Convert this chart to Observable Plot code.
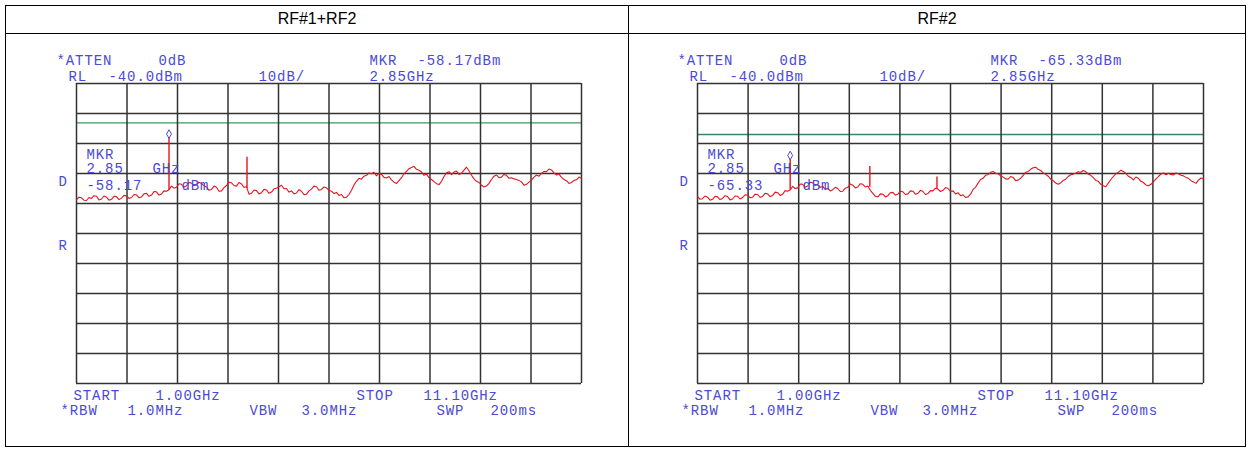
<!DOCTYPE html>
<html><head><meta charset="utf-8">
<script src="https://cdn.jsdelivr.net/npm/d3@7"></script>
<script src="https://cdn.jsdelivr.net/npm/@observablehq/plot@0.6"></script>
<style>
body{margin:0;background:#fff;}
#wrap{position:relative;width:1251px;height:451px;overflow:hidden;background:#fff;}
.b{position:absolute;background:#000;}
.title{position:absolute;font-family:"Liberation Sans",Arial,sans-serif;font-size:16px;text-align:center;top:9px;line-height:20px;color:#000;}
.panel{position:absolute;top:34px;}
.panel svg{display:block;}
.panel text{white-space:pre;letter-spacing:0.9px;}
</style></head>
<body><div id="wrap"></div>
<script>
// ---- sweep settings ----
const START_GHZ = 1.00, STOP_GHZ = 11.10, STEP_GHZ = 0.05;
const REF_LEVEL = -40, DB_PER_DIV = 10, N_DIV_Y = 10;
const xDivisions = [1.00, 2.01, 3.02, 4.03, 5.04, 6.05, 7.06, 8.07, 9.08, 10.09, 11.10];
const yDivisions = [-40, -50, -60, -70, -80, -90, -100, -110, -120, -130, -140];

const panelTitles = ["RF#1+RF2", "RF#2"];

// ---- traces (dBm, one value per 0.05 GHz from 1.00 to 11.10 GHz) ----
const traceLeft = [
  -78.8,-77.9,-78.1,-78.9,-79.0,-78.0,-78.3,-77.4,-77.6,-78.8,-78.5,-77.5,-77.9,-78.9,-78.6,-77.6,-77.7,-78.7,-78.2,-77.3,
  -77.4,-78.3,-78.0,-77.0,-77.1,-78.1,-77.8,-76.8,-76.6,-77.6,-77.2,-76.0,-76.1,-77.2,-76.8,-75.8,-75.9,-75.4,-74.2,-74.9,
  -74.6,-73.4,-73.6,-74.5,-74.1,-73.0,-73.2,-74.0,-73.8,-72.9,-73.3,-74.1,-74.5,-75.6,-75.3,-74.2,-74.6,-75.9,-75.8,-74.7,
  -74.0,-72.9,-73.1,-74.0,-74.2,-73.0,-73.5,-74.6,-74.4,-76.9,-76.6,-75.5,-75.7,-76.8,-76.4,-75.3,-75.5,-76.6,-76.2,-75.1,
  -74.9,-74.4,-73.9,-75.1,-75.0,-76.2,-75.8,-76.8,-76.5,-75.4,-75.9,-77.1,-76.9,-75.8,-75.2,-74.2,-74.4,-75.6,-75.3,-74.5,
  -74.8,-75.6,-75.9,-76.7,-76.3,-77.3,-77.0,-78.1,-77.9,-77.0,-75.6,-73.8,-72.6,-71.6,-71.9,-70.9,-70.6,-69.8,-70.1,-69.6,
  -70.8,-69.9,-70.3,-71.3,-71.5,-71.0,-72.1,-72.9,-73.3,-72.4,-71.4,-70.1,-69.3,-68.4,-68.0,-67.6,-68.6,-68.9,-69.5,-70.6,
  -70.2,-71.4,-72.0,-72.7,-73.4,-73.7,-72.6,-71.0,-69.8,-69.4,-70.4,-69.5,-69.2,-70.3,-69.9,-68.9,-67.9,-69.1,-70.6,-71.8,
  -72.6,-73.0,-73.9,-74.5,-74.2,-73.3,-72.0,-70.9,-70.5,-71.4,-71.2,-70.3,-70.6,-71.6,-71.4,-71.8,-72.0,-72.3,-72.8,-73.9,
  -73.6,-72.9,-72.2,-71.2,-70.5,-70.9,-70.0,-69.3,-69.4,-68.5,-68.8,-69.8,-70.5,-70.2,-71.3,-72.0,-72.4,-73.3,-73.0,-72.3,
  -72.1,-71.2,-71.6
];
const traceRight = [
  -77.6,-78.6,-78.4,-77.5,-77.9,-78.9,-78.6,-77.6,-77.8,-78.7,-78.3,-77.4,-77.7,-78.8,-78.5,-77.5,-77.6,-78.5,-78.0,-77.1,
  -77.2,-78.1,-77.9,-76.9,-77.0,-78.0,-77.6,-76.6,-76.8,-77.7,-77.3,-76.2,-76.4,-77.3,-76.9,-75.7,-75.9,-75.5,-74.3,-75.0,
  -74.8,-73.5,-73.6,-74.6,-74.2,-72.9,-73.1,-74.0,-73.7,-74.6,-74.3,-75.3,-74.9,-75.8,-75.4,-74.6,-75.0,-76.0,-75.9,-74.9,
  -74.6,-73.5,-73.9,-74.8,-74.5,-73.4,-73.6,-74.5,-74.2,-75.6,-76.6,-77.6,-77.8,-76.8,-76.9,-77.8,-77.4,-76.4,-76.3,-77.2,
  -76.9,-75.9,-76.1,-77.0,-76.8,-75.8,-75.9,-76.9,-76.6,-75.6,-76.0,-77.0,-76.7,-75.7,-75.8,-74.9,-75.2,-76.0,-75.6,-74.7,
  -75.0,-76.0,-75.8,-76.8,-76.4,-77.4,-77.1,-78.0,-77.8,-76.9,-75.3,-74.6,-73.2,-72.0,-71.6,-70.6,-70.4,-69.6,-69.3,-69.9,
  -70.1,-70.8,-71.2,-71.8,-71.9,-71.0,-71.3,-72.4,-72.2,-71.6,-70.6,-69.6,-69.3,-68.6,-68.1,-67.9,-68.6,-69.0,-69.8,-70.3,
  -70.9,-71.9,-72.4,-73.2,-73.6,-73.1,-72.3,-71.9,-71.0,-70.4,-70.2,-69.9,-69.4,-69.6,-69.0,-69.4,-70.2,-70.6,-71.4,-72.3,
  -72.6,-73.6,-74.1,-74.4,-73.2,-72.0,-71.0,-70.1,-69.6,-68.9,-69.3,-70.0,-70.9,-71.3,-72.1,-71.2,-71.6,-72.6,-73.0,-73.8,
  -74.1,-73.6,-72.8,-71.9,-71.0,-70.2,-69.8,-70.4,-69.9,-70.3,-70.5,-69.8,-70.1,-70.6,-70.8,-71.3,-71.6,-72.4,-72.8,-73.3,
  -72.2,-71.5,-71.8
];

// ---- spurious spikes ----
const spikeFreqLeft  = [2.85, 4.41];
const spikePeakLeft  = [-58.17, -64.6];
const spikeBaseLeft  = [-75.6, -75.0];
const spikeFreqRight = [2.85, 4.44, 5.78];
const spikePeakRight = [-65.33, -67.7, -71.2];
const spikeBaseRight = [-75.6, -74.6, -75.2];

// ---- marker & display line ----
const markerFreq = [2.85, 2.85];
const markerLevel = [-58.17, -65.33];
const displayLine = [-53.1, -57.0];

// ---- screen annotations ----
const topLine1 = ["*ATTEN", "0dB", "MKR"];
const topLine2 = ["RL", "-40.0dBm", "10dB/", "2.85GHz"];
const bottomLine1 = ["START", "1.00GHz", "STOP", "11.10GHz"];
const bottomLine2 = ["*RBW", "1.0MHz", "VBW", "3.0MHz", "SWP", "200ms"];
const mkrReadout = ["-58.17dBm", "-65.33dBm"];
const mkrInGrid = [["MKR", "2.85", "GHz", "-58.17", "dBm"], ["MKR", "2.85", "GHz", "-65.33", "dBm"]];

const BLUE = "#4a4ad6", RED = "#e3161f", GRID = "#333", GREEN = ["#3a9a58", "#2f8a6c"];
const FONT = "Liberation Mono, DejaVu Sans Mono, monospace";

const wrap = document.getElementById("wrap");
function bar(l, t, w, h) { const d = document.createElement("div"); d.className = "b"; Object.assign(d.style, {left: l+"px", top: t+"px", width: w+"px", height: h+"px"}); wrap.appendChild(d); }
bar(5, 5, 1241, 1); bar(5, 33, 1241, 1); bar(5, 446, 1241, 1);
bar(5, 5, 1, 442); bar(628, 5, 1, 442); bar(1245, 5, 1, 442);
function title(txt, l, w) { const d = document.createElement("div"); d.className = "title"; d.textContent = txt; Object.assign(d.style, {left: l+"px", width: w+"px"}); wrap.appendChild(d); }
title(panelTitles[0], 6, 622); title(panelTitles[1], 629, 616);

function txt(arr, anchor, dxs, dy) {
  return arr.map((s, i) => Plot.text([s], {text: d => d, frameAnchor: anchor, textAnchor: "start", dx: dxs[i], dy, fill: BLUE, fontFamily: FONT, fontSize: 14}));
}

function panel(k, left, width, mLeft, mRight) {
  const trace = (k === 0 ? traceLeft : traceRight).map((v, i) => ({f: START_GHZ + i * STEP_GHZ, v}));
  const sf = k === 0 ? spikeFreqLeft : spikeFreqRight;
  const sp = k === 0 ? spikePeakLeft : spikePeakRight;
  const sb = k === 0 ? spikeBaseLeft : spikeBaseRight;
  const spikes = sf.map((f, i) => ({f, p: sp[i], b: sb[i]}));
  const inG = mkrInGrid[k];
  const chart = Plot.plot({
    width, height: 411,
    marginLeft: mLeft, marginRight: mRight, marginTop: 49, marginBottom: 62,
    x: {domain: [START_GHZ, STOP_GHZ], axis: null},
    y: {domain: [REF_LEVEL - DB_PER_DIV * N_DIV_Y, REF_LEVEL], axis: null},
    marks: [
      Plot.ruleY([displayLine[k]], {stroke: GREEN[k], strokeWidth: 1.3}),
      Plot.ruleX(xDivisions, {stroke: GRID, strokeWidth: 1.5}),
      Plot.ruleY(yDivisions, {stroke: GRID, strokeWidth: 1.5}),
      Plot.line(trace, {x: "f", y: "v", stroke: RED, strokeWidth: 1.1}),
      Plot.ruleX(spikes, {x: "f", y1: "b", y2: "p", stroke: RED, strokeWidth: 1.4}),
      Plot.dot([{f: markerFreq[k], v: markerLevel[k]}], {x: "f", y: "v", symbol: "diamond", r: 2.6, stroke: BLUE, strokeWidth: 1, fill: "none", dy: -4}),
      ...txt([...topLine1, mkrReadout[k]], "top-left", [-20, 82, 293, 341], -28),
      ...txt(topLine2, "top-left", [-8, 32, 182, 293], -12),
      ...txt(bottomLine1, "bottom-left", [-3, 79, 280, 347], 16),
      ...txt(bottomLine2, "bottom-left", [-16, 51, 173, 225, 360, 414], 31),
      ...txt([inG[0]], "top-left", [10], 66),
      ...txt([inG[1], inG[2]], "top-left", [10, 76], 80),
      ...txt([inG[3], inG[4]], "top-left", [10, 105], 97),
      ...txt(["D"], "top-left", [-18], 93),
      ...txt(["R"], "top-left", [-18], 157)
    ]
  });
  const div = document.createElement("div");
  div.className = "panel";
  div.style.left = left + "px";
  div.appendChild(chart);
  wrap.appendChild(div);
}
panel(0, 6, 622, 70, 47);
panel(1, 629, 615, 68, 41);
</script>
</body></html>
